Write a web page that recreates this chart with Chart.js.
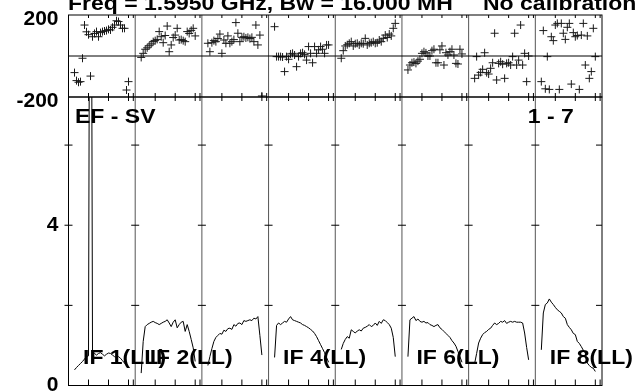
<!DOCTYPE html>
<html>
<head>
<meta charset="utf-8">
<script src="https://cdn.jsdelivr.net/npm/chart.js@4.4.1/dist/chart.umd.min.js"></script>
<style>
  html, body { margin: 0; padding: 0; background: #fff; }
  #wrap { position: relative; width: 639px; height: 392px; overflow: hidden; }
  #wrap canvas { position: absolute; left: 0; top: 0; }
</style>
</head>
<body>
<div id="wrap">
  <canvas id="phaseChart" width="639" height="392"></canvas>
  <canvas id="ampChart" width="639" height="392"></canvas>
</div>
<script>
// channels shown in every IF panel
const channels = [3, 4, 5, 6, 7, 8, 9, 10, 11, 12, 13, 14, 15, 16, 17, 18, 19, 20, 21, 22, 23, 24, 25, 26, 27, 28, 29, 30];
const ifNames = ['IF 1', 'IF 2', 'IF 3', 'IF 4', 'IF 5', 'IF 6', 'IF 7', 'IF 8'];
const ifLabelsShown = [1, 2, 4, 6, 8];
const phaseTicks = [-200, 200];
const ampTicks = [0, 4];
const ampMinorTicks = [2, 4, 6];

// phase (degrees) per channel
const phase1 = [-81, -120, -128, -125, -11, 151, 118, 104, -98, 94, 110, 119, 94, 114, 119, 122, 124, 130, 127, 140, 151, 172, 168, 151, 135, 135, -166, -125];
const phase2 = [-7, 13, 33, 40, 50, 59, 70, 75, 81, 119, 94, 65, 100, 146, 21, 54, 90, 102, 135, 78, 80, 75, 70, 119, 110, 125, 135, 98];
const phase3 = [62, 21, 65, 75, 70, 85, 107, 13, 78, 62, 98, 62, 70, 80, 163, 111, 70, 91, 94, 88, 91, 85, 91, 70, 151, 54, 102, -195];
const phase4 = [143, -3, -3, -3, -5, -76, -3, -16, 10, 13, 5, -52, -3, 13, 16, 8, -20, 46, 13, -33, 46, 13, 30, 46, 33, 13, 54, 54];
const phase5 = [-11, 26, 49, 55, 62, 70, 49, 60, 62, 54, 62, 60, 86, 54, 62, 65, 70, 62, 65, 78, 70, 86, 102, 90, 107, 98, 135, 159];
const phase6 = [-68, -44, -33, -30, -36, -25, -16, 13, 21, 15, 0, 0, 26, 33, -33, -33, 30, 49, -44, 16, 5, 21, 33, 5, -36, -39, 33, 10];
const phase7 = [-109, -3, -93, -80, -65, 16, -81, -88, -60, -33, 111, -117, -36, -28, -40, -109, -36, -33, -44, -3, 111, -44, -20, 151, -44, 13, -125, 0];
const phase8 = [-125, 124, -160, -3, -163, 94, 75, 151, 159, -163, 159, 111, 81, 140, 159, -137, 114, 94, 100, -163, 102, 159, -44, 98, -109, -76, 135, -3];

// amplitude (Jy) per channel
const amp1 = [0.39, 0.45, 0.5, 0.55, 0.6, 0.66, 0.72, 0.74, 20, 0.85, 0.8, 0.76, 0.8, 0.82, 0.78, 0.74, 0.78, 0.81, 0.8, 0.76, 0.72, 0.7, 0.72, 0.68, 0.62, 0.56, 0.5, 0.44];
const amp2 = [0.31, 1.1, 1.47, 1.52, 1.55, 1.58, 1.6, 1.57, 1.55, 1.52, 1.55, 1.58, 1.6, 1.64, 1.56, 1.47, 1.58, 1.64, 1.44, 1.52, 1.58, 1.6, 1.35, 1.52, 1.35, 1.15, 0.94, 0.6];
const amp3 = [0.5, 0.72, 0.92, 1.1, 1.2, 1.25, 1.3, 1.28, 1.38, 1.35, 1.42, 1.43, 1.4, 1.52, 1.48, 1.55, 1.56, 1.52, 1.62, 1.6, 1.62, 1.64, 1.62, 1.68, 1.66, 1.72, 1.25, 0.76];
const amp4 = [0.7, 1.5, 1.56, 1.52, 1.56, 1.6, 1.58, 1.66, 1.72, 1.64, 1.62, 1.6, 1.58, 1.56, 1.52, 1.5, 1.47, 1.44, 1.4, 1.36, 1.3, 1.22, 1.12, 1.02, 0.92, 0.82, 0.7, 0.58];
const amp5 = [0.9, 1.05, 1.15, 1.22, 1.18, 1.39, 1.35, 1.31, 1.36, 1.39, 1.36, 1.43, 1.45, 1.48, 1.52, 1.47, 1.5, 1.56, 1.5, 1.6, 1.55, 1.64, 1.62, 1.57, 1.52, 1.43, 1.2, 0.72];
const amp6 = [0.72, 1.64, 1.68, 1.72, 1.62, 1.66, 1.6, 1.58, 1.6, 1.56, 1.57, 1.52, 1.5, 1.47, 1.5, 1.52, 1.44, 1.4, 1.35, 1.3, 1.25, 1.2, 1.12, 1.06, 0.98, 0.85, 0.72, 0.58];
const amp7 = [0.55, 0.8, 1.06, 1.18, 1.27, 1.32, 1.35, 1.4, 1.43, 1.5, 1.56, 1.52, 1.55, 1.6, 1.58, 1.62, 1.55, 1.58, 1.6, 1.58, 1.6, 1.58, 1.58, 1.58, 1.56, 1.31, 0.95, 0.64];
const amp8 = [0.89, 1.81, 2.02, 2.06, 2.16, 2.08, 2.02, 1.95, 1.89, 1.85, 1.81, 1.72, 1.68, 1.52, 1.45, 1.39, 1.3, 1.27, 1.1, 1.05, 0.97, 0.88, 0.81, 0.56, 0.5, 0.45, 0.43, 0.35];

const phases = [phase1, phase2, phase3, phase4, phase5, phase6, phase7, phase8];
const amps = [amp1, amp2, amp3, amp4, amp5, amp6, amp7, amp8];

const PANEL = 33.34;               // channel units taken by one IF panel
const chanTicks = [10, 20, 30, 32.4];
const FONT = 'Liberation Sans, Arial, sans-serif';

function toPoints(values, k) {
  return values.map((v, i) => ({ x: k * PANEL + channels[i], y: v }));
}

function line(ctx, x1, y1, x2, y2) {
  ctx.beginPath();
  ctx.moveTo(x1, y1);
  ctx.lineTo(x2, y2);
  ctx.stroke();
}

function squashText(ctx, text, x, y, size, sy) {
  ctx.save();
  ctx.translate(x, y);
  ctx.scale(1, sy);
  ctx.font = 'bold ' + size + 'px ' + FONT;
  ctx.fillStyle = '#000';
  ctx.textBaseline = 'alphabetic';
  ctx.fillText(text, 0, 0);
  ctx.restore();
}

// frame, panel separators and tick marks
const framePlugin = {
  id: 'frame',
  afterDatasetsDraw(chart, args, opts) {
    const { ctx, chartArea: a, scales: { x, y } } = chart;
    ctx.save();
    ctx.lineWidth = 1;
    ctx.strokeStyle = '#555';
    for (let k = 1; k < ifNames.length; k++) {
      const px = x.getPixelForValue(k * PANEL);
      line(ctx, px, a.top, px, a.bottom);
    }
    ctx.strokeStyle = '#000';
    ctx.strokeRect(a.left, a.top, a.right - a.left, a.bottom - a.top);

    for (let k = 0; k < ifNames.length; k++) {
      chanTicks.forEach(t => {
        const px = x.getPixelForValue(k * PANEL + t);
        if (opts.kind === 'phase') {
          line(ctx, px, a.top, px, a.top + 3);
          line(ctx, px, a.bottom - 4, px, a.bottom + 4);
        } else {
          line(ctx, px, a.bottom - 6, px, a.bottom);
        }
      });
    }

    if (opts.kind === 'phase') {
      const py = y.getPixelForValue(0);
      line(ctx, a.left, py, a.right, py);
    } else {
      ampMinorTicks.forEach(v => {
        const py = y.getPixelForValue(v);
        for (let k = 0; k <= ifNames.length; k++) {
          const px = x.getPixelForValue(k * PANEL);
          if (k === ifNames.length) line(ctx, px - 6, py, px, py);
          else line(ctx, px - 4, py, px + 4, py);
        }
      });
    }
    ctx.restore();
  },
  afterDraw(chart, args, opts) {
    const { ctx, chartArea: a, scales: { x } } = chart;
    if (opts.kind === 'phase') {
      squashText(ctx, 'Freq = 1.5950 GHz, Bw = 16.000 MH', 68, 10, 23, 0.88);
      squashText(ctx, 'No calibration', 483, 10, 23, 0.88);
    } else {
      squashText(ctx, 'EF - SV', a.left + 6.5, 123, 23, 0.9);
      squashText(ctx, '1 - 7', x.getPixelForValue(7 * PANEL) - 7.5, 123, 23, 0.9);
      ifLabelsShown.forEach(n => {
        const px = x.getPixelForValue((n - 1) * PANEL) + 14.5;
        squashText(ctx, ifNames[n - 1] + '(LL)', px, 363.5, 23, 0.9);
      });
    }
  }
};

function xScale() {
  return { type: 'linear', display: false, min: 0, max: PANEL * ifNames.length };
}

function yScale(min, max, tickValues, labelOffset) {
  return {
    type: 'linear',
    min: min,
    max: max,
    afterBuildTicks: s => { s.ticks = tickValues.map(v => ({ value: v })); },
    afterFit: s => {
      s.width = 68.5;
      s.paddingTop = 0;
      s.paddingBottom = 0;
    },
    grid: { display: false, drawTicks: false },
    border: { display: false },
    ticks: {
      color: '#000',
      padding: 10,
      labelOffset: labelOffset,
      font: { family: FONT, size: 21, weight: 'bold' }
    }
  };
}

const baseOptions = {
  responsive: false,
  animation: false,
  events: []
};

new Chart(document.getElementById('phaseChart'), {
  type: 'scatter',
  data: {
    datasets: phases.map((p, k) => ({
      label: ifNames[k],
      data: toPoints(p, k),
      pointStyle: 'cross',
      pointRadius: 4,
      borderColor: '#1a1a1a',
      borderWidth: 1,
      showLine: false
    }))
  },
  options: Object.assign({}, baseOptions, {
    layout: { padding: { left: 0, right: 37, top: 15, bottom: 295 } },
    scales: { x: xScale(), y: yScale(-200, 200, phaseTicks, 4.5) },
    plugins: { legend: { display: false }, tooltip: { enabled: false }, frame: { kind: 'phase' } }
  }),
  plugins: [framePlugin]
});

new Chart(document.getElementById('ampChart'), {
  type: 'line',
  data: {
    datasets: amps.map((p, k) => ({
      label: ifNames[k],
      data: toPoints(p, k),
      borderColor: '#000',
      borderWidth: 1,
      pointRadius: 0,
      tension: 0,
      fill: false
    }))
  },
  options: Object.assign({}, baseOptions, {
    layout: { padding: { left: 0, right: 37, top: 97, bottom: 6.5 } },
    scales: { x: xScale(), y: yScale(0, 7.2, ampTicks, 0) },
    plugins: { legend: { display: false }, tooltip: { enabled: false }, frame: { kind: 'amp' } }
  }),
  plugins: [framePlugin]
});
</script>
</body>
</html>
